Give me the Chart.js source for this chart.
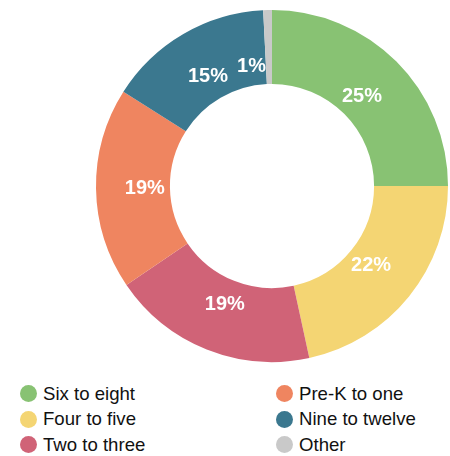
<!DOCTYPE html>
<html>
<head>
<meta charset="utf-8">
<title>Grade levels</title>
<script src="https://cdn.jsdelivr.net/npm/chart.js@4"></script>
<style>
    html, body { margin: 0; padding: 0; background: #fff; }
    body { width: 450px; height: 456px; overflow: hidden; font-family: "Liberation Sans", Arial, sans-serif; }
    .c-chart { position: relative; width: 450px; height: 372px; }
    .js-legend {
        display: grid;
        grid-template-columns: 256px 194px;
        grid-template-rows: repeat(3, 25.5px);
        grid-auto-flow: column;
        margin-top: 9px;
        padding-left: 20px;
        font-size: 18.6px;
        color: #111;
    }
    .c-legend__item { display: flex; align-items: center; white-space: nowrap; }
    .c-legend__dot { width: 17px; height: 17px; border-radius: 50%; margin-right: 6px; flex: none; }
</style>
</head>
<body>
<div class="c-chart"><canvas class="js-graph"></canvas></div>
<div class="js-legend"></div>
<script>
'use strict';

// share of students per grade band (percent)
const labels = ['Six to eight', 'Four to five', 'Two to three', 'Pre-K to one', 'Nine to twelve', 'Other'];
const values = [25.0, 21.6, 18.9, 18.5, 15.2, 0.8];
const colors = ['#88c273', '#f4d573', '#d06377', '#ef8560', '#3b788f', '#c9c9c9'];

let chart;

// draws the rounded percentage inside each slice
const sliceLabels = {
    id: 'sliceLabels',
    afterDatasetsDraw(c) {
        const ctx = c.ctx;
        const meta = c.getDatasetMeta(0);
        const data = c.data.datasets[0].data;
        const total = data.reduce((a, b) => a + b, 0);
        ctx.save();
        ctx.fillStyle = '#fff';
        ctx.font = 'bold 20px "Liberation Sans", Arial, sans-serif';
        ctx.textBaseline = 'middle';
        meta.data.forEach((arc, i) => {
            const p = arc.getProps(['x', 'y', 'startAngle', 'endAngle', 'innerRadius', 'outerRadius'], true);
            const pct = Math.round(data[i] / total * 100) + '%';
            const small = (p.endAngle - p.startAngle) < 0.1;
            //tiny slices: put text next to the slice instead of on it
            const angle = small ? p.startAngle : (p.startAngle + p.endAngle) / 2;
            const r = p.innerRadius + (p.outerRadius - p.innerRadius) * (small ? 0.24 : 0.34);
            ctx.textAlign = small ? 'right' : 'center';
            ctx.fillText(pct, p.x + Math.cos(angle) * r, p.y + Math.sin(angle) * r);
        });
        ctx.restore();
    }
};

const generateLegend = function() {
    let legend = document.querySelector('.js-legend');
    let html = '';
    for (let i = 0; i < labels.length; i++) {
        html += `<div class="c-legend__item"><span class="c-legend__dot" style="background:${colors[i]}"></span>${labels[i]}</div>`;
    }
    legend.innerHTML = html;
};

const generateChart = function() {
    let canvas = document.querySelector('.js-graph').getContext('2d');
    chart = new Chart(canvas, {
        type: 'doughnut',
        data: {
            labels: labels,
            datasets: [{
                data: values,
                backgroundColor: colors,
                borderWidth: 0
            }]
        },
        options: {
            responsive: true,
            maintainAspectRatio: false,
            animation: false,
            cutout: '58%',
            layout: { padding: { left: 96, right: 2, top: 10, bottom: 10 } },
            plugins: {
                legend: { display: false },
                tooltip: { enabled: false }
            }
        },
        plugins: [sliceLabels]
    });
};

document.addEventListener('DOMContentLoaded', function() {
    generateChart();
    generateLegend();
});
</script>
</body>
</html>
